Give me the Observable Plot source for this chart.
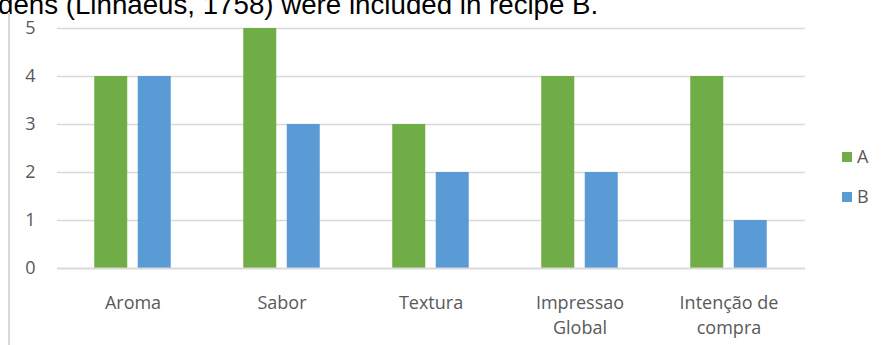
<!DOCTYPE html>
<html><head><meta charset="utf-8">
<script src="https://cdn.jsdelivr.net/npm/d3@7"></script>
<script src="https://cdn.jsdelivr.net/npm/@observablehq/plot@0.6"></script>
<style>
body{margin:0;background:#fff;width:881px;height:345px;overflow:hidden;position:relative;}
#cap{position:absolute;left:-2px;top:-9px;line-height:28px;font-family:"Liberation Sans",Arial,sans-serif;font-size:27.7px;color:#000;white-space:nowrap;}
#vline{position:absolute;left:8px;top:12px;width:2px;height:340px;background:#d9d9d9;}
#chart{position:absolute;left:0;top:0;}
.leg{position:absolute;left:842px;height:20px;line-height:20px;font-family:"Open Sans",sans-serif;font-size:18px;color:#595959;}
.leg span{display:inline-block;width:10px;height:10px;margin-right:5px;vertical-align:middle;position:relative;top:-1px;}
</style></head><body>
<div id="cap">dens (Linnaeus, 1758) were included in recipe B.</div>
<div id="vline"></div>
<div id="chart"></div>
<div class="leg" style="top:146px"><span style="background:#70ad47"></span>A</div>
<div class="leg" style="top:186px"><span style="background:#5b9bd5"></span>B</div>
<script>
const categories = ["Aroma", "Sabor", "Textura", "Impressao\nGlobal", "Intenção de\ncompra"];
const seriesA = [4, 5, 3, 4, 4];
const seriesB = [4, 3, 2, 2, 1];
const yTicks = [0, 1, 2, 3, 4, 5];

const dataA = categories.map((c, i) => ({cat: c, v: seriesA[i]}));
const dataB = categories.map((c, i) => ({cat: c, v: seriesB[i]}));

const plot = Plot.plot({
  width: 881, height: 345,
  marginLeft: 57, marginRight: 76, marginTop: 28, marginBottom: 77,
  style: {fontFamily: "'Open Sans', sans-serif", background: "transparent"},
  x: {domain: categories, paddingInner: 0.776, paddingOuter: 0.388, label: null},
  y: {domain: [0, 5], label: null},
  marks: [
    Plot.ruleY(yTicks.filter(d => d > 0), {stroke: "#d9d9d9", strokeWidth: 1.5}),
    Plot.barY(dataA, {x: "cat", y: "v", fill: "#70ad47", dx: -21.75}),
    Plot.barY(dataB, {x: "cat", y: "v", fill: "#5b9bd5", dx: 21.75}),
    Plot.ruleY([0], {stroke: "#d9d9d9", strokeWidth: 2}),
    Plot.axisY({ticks: yTicks, tickSize: 0, tickPadding: 22, fontSize: 18, fill: "#595959", tickFormat: d3.format("d")}),
    Plot.axisX({tickSize: 0, tickPadding: 23, fontSize: 18, fill: "#595959", lineHeight: 1.39})
  ]
});
document.getElementById("chart").appendChild(plot);
</script>
</body></html>
